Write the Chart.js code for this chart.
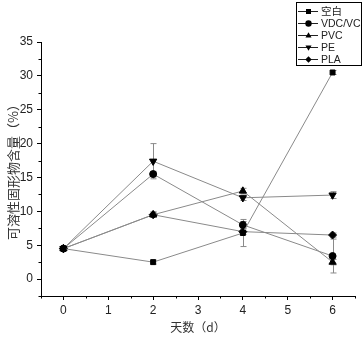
<!DOCTYPE html>
<html>
<head>
<meta charset="utf-8">
<script src="https://cdn.jsdelivr.net/npm/chart.js@4/dist/chart.umd.min.js"></script>
<style>
  html, body { margin: 0; padding: 0; background: #fff; }
  #wrap { width: 363px; height: 340px; position: relative; }
</style>
</head>
<body>
<div id="wrap"><canvas id="c" width="363" height="340"></canvas></div>
<script>
// values
const days = [0, 2, 4, 6];
const seriesNames = ['空白', 'VDC/VC', 'PVC', 'PE', 'PLA'];
const blankVals = [4.5, 2.5, 6.8, 30.5];
const vdcVals = [4.5, 15.5, 8.0, 3.4];
const pvcVals = [4.5, 9.5, 13.0, 2.5];
const peVals = [4.5, 17.4, 12.0, 12.4];
const plaVals = [4.5, 9.5, 7.0, 6.5];
// error bar half-widths
const blankErr = [0.3, 0.3, 2.0, 0.3];
const vdcErr = [0.3, 0.4, 0.5, 2.5];
const pvcErr = [0.3, 0.4, 0.4, 0.4];
const peErr = [0.3, 2.6, 0.4, 0.5];
const plaErr = [0.3, 0.4, 0.4, 0.3];
const pointStyles = ['rect', 'circle', 'triangle', 'triangle', 'rectRot'];
const pointRots = [0, 0, 0, 180, 0];
const pointSizes = [3.5, 3.5, 4.2, 4.2, 4];

const allVals = [blankVals, vdcVals, pvcVals, peVals, plaVals];
const allErr = [blankErr, vdcErr, pvcErr, peErr, plaErr];

const lineGray = '#8a8a8a';

var datasets = seriesNames.map(function (name, s) {
  return {
    label: name,
    data: days.map(function (d, i) { return { x: d, y: allVals[s][i] }; }),
    errors: allErr[s],
    borderColor: lineGray,
    borderWidth: 1,
    backgroundColor: '#000',
    pointBackgroundColor: '#000',
    pointBorderColor: '#000',
    pointBorderWidth: 1,
    pointStyle: pointStyles[s],
    pointRotation: pointRots[s],
    pointRadius: pointSizes[s],
    tension: 0,
    fill: false
  };
});

// error bars drawn through the chart's scales
var errorBars = {
  id: 'errorBars',
  beforeDatasetsDraw: function (chart) {
    var ctx = chart.ctx;
    var xs = chart.scales.x, ys = chart.scales.y;
    ctx.save();
    ctx.strokeStyle = lineGray;
    ctx.lineWidth = 1;
    chart.data.datasets.forEach(function (ds) {
      ds.data.forEach(function (p, i) {
        var e = ds.errors[i];
        var px = Math.round(xs.getPixelForValue(p.x)) + 0.5;
        var top = ys.getPixelForValue(p.y + e);
        var bot = ys.getPixelForValue(p.y - e);
        ctx.beginPath();
        ctx.moveTo(px, top); ctx.lineTo(px, bot);
        ctx.moveTo(px - 3, top); ctx.lineTo(px + 3, top);
        ctx.moveTo(px - 3, bot); ctx.lineTo(px + 3, bot);
        ctx.stroke();
      });
    });
    ctx.restore();
  }
};

// short minor ticks (major ones come from the grid options)
var minorTicks = {
  id: 'minorTicks',
  afterDraw: function (chart) {
    var ctx = chart.ctx;
    var xs = chart.scales.x, ys = chart.scales.y;
    ctx.save();
    ctx.strokeStyle = '#000';
    ctx.lineWidth = 1;
    ctx.beginPath();
    xs.ticks.forEach(function (t) {
      if (Number.isInteger(t.value)) return;
      var px = Math.round(xs.getPixelForValue(t.value)) + 0.5;
      ctx.moveTo(px, ys.bottom); ctx.lineTo(px, ys.bottom + 2.5);
    });
    ys.ticks.forEach(function (t) {
      if (t.value % 5 === 0) return;
      var py = Math.round(ys.getPixelForValue(t.value)) + 0.5;
      ctx.moveTo(xs.left, py); ctx.lineTo(xs.left - 2.5, py);
    });
    ctx.stroke();
    ctx.restore();
  }
};

function drawMarker(ctx, style, rot, r, x, y) {
  ctx.beginPath();
  if (style === 'rect') {
    ctx.rect(x - r, y - r, r * 2, r * 2);
  } else if (style === 'circle') {
    ctx.arc(x, y, r, 0, Math.PI * 2);
  } else if (style === 'triangle') {
    var d = rot === 180 ? -1 : 1;
    ctx.moveTo(x, y - d * r);
    ctx.lineTo(x - r * 0.95, y + d * r * 0.6);
    ctx.lineTo(x + r * 0.95, y + d * r * 0.6);
    ctx.closePath();
  } else {
    ctx.moveTo(x, y - r); ctx.lineTo(x + r, y); ctx.lineTo(x, y + r); ctx.lineTo(x - r, y);
    ctx.closePath();
  }
  ctx.fill();
}

// boxed legend at top right
var boxLegend = {
  id: 'boxLegend',
  afterDraw: function (chart) {
    var ctx = chart.ctx;
    var bx = 296.5, by = 2.5, bw = 65, bh = 63;
    ctx.save();
    ctx.fillStyle = '#fff';
    ctx.fillRect(bx, by, bw, bh);
    ctx.strokeStyle = '#000';
    ctx.lineWidth = 1;
    ctx.strokeRect(bx, by, bw, bh);
    chart.data.datasets.forEach(function (ds, s) {
      var y = 11 + s * 12;
      ctx.strokeStyle = '#222';
      ctx.beginPath();
      ctx.moveTo(298, y + 0.5); ctx.lineTo(318, y + 0.5);
      ctx.stroke();
      ctx.fillStyle = '#000';
      drawMarker(ctx, pointStyles[s], pointRots[s], s === 0 ? 2.5 : 3.2, 308.5, y + 0.5);
      ctx.fillStyle = '#222';
      ctx.font = '10.5px "Liberation Sans", "Noto Sans CJK SC", sans-serif';
      ctx.textBaseline = 'middle';
      ctx.textAlign = 'left';
      ctx.fillText(ds.label, 321, y + 1);
    });
    ctx.restore();
  }
};

new Chart(document.getElementById('c'), {
  type: 'line',
  data: { datasets: datasets },
  plugins: [errorBars, minorTicks, boxLegend],
  options: {
    responsive: false,
    animation: false,
    devicePixelRatio: 1,
    layout: { padding: { top: 42, right: 8, left: 0, bottom: 0 } },
    plugins: { legend: { display: false }, tooltip: { enabled: false } },
    scales: {
      x: {
        type: 'linear',
        min: -0.5, max: 6.5,
        afterFit: function (sc) { sc.height = 44; },
        border: { color: '#000', width: 1 },
        grid: {
          drawOnChartArea: false, drawTicks: true, tickLength: 4,
          tickColor: function (c) { return Number.isInteger(c.tick.value) ? '#000' : 'rgba(0,0,0,0)'; }
        },
        ticks: {
          stepSize: 0.5,
          color: '#222',
          padding: 3,
          maxRotation: 0,
          autoSkip: false,
          font: { family: '"Liberation Sans", Arial, sans-serif', size: 12 },
          callback: function (v) { return Number.isInteger(v) ? String(v) : ''; }
        },
        title: {
          display: true,
          text: '天数（d）',
          color: '#333',
          padding: { top: 0, bottom: 5 },
          font: { family: '"Noto Sans CJK SC", sans-serif', size: 12 }
        }
      },
      y: {
        min: -2.5, max: 35,
        afterFit: function (sc) { sc.width = 41; },
        border: { color: '#000', width: 1 },
        grid: {
          drawOnChartArea: false, drawTicks: true, tickLength: 4,
          tickColor: function (c) { return c.tick.value % 5 === 0 ? '#000' : 'rgba(0,0,0,0)'; }
        },
        ticks: {
          stepSize: 2.5,
          color: '#222',
          padding: 4,
          autoSkip: false,
          font: { family: '"Liberation Sans", Arial, sans-serif', size: 12 },
          callback: function (v) { return (v >= 0 && v % 5 === 0) ? String(v) : ''; }
        },
        title: {
          display: true,
          text: '可溶性固形物含量（%）',
          color: '#333',
          padding: { top: 5, bottom: 0 },
          font: { family: '"Noto Sans CJK SC", sans-serif', size: 13 }
        }
      }
    }
  }
});
</script>
</body>
</html>
